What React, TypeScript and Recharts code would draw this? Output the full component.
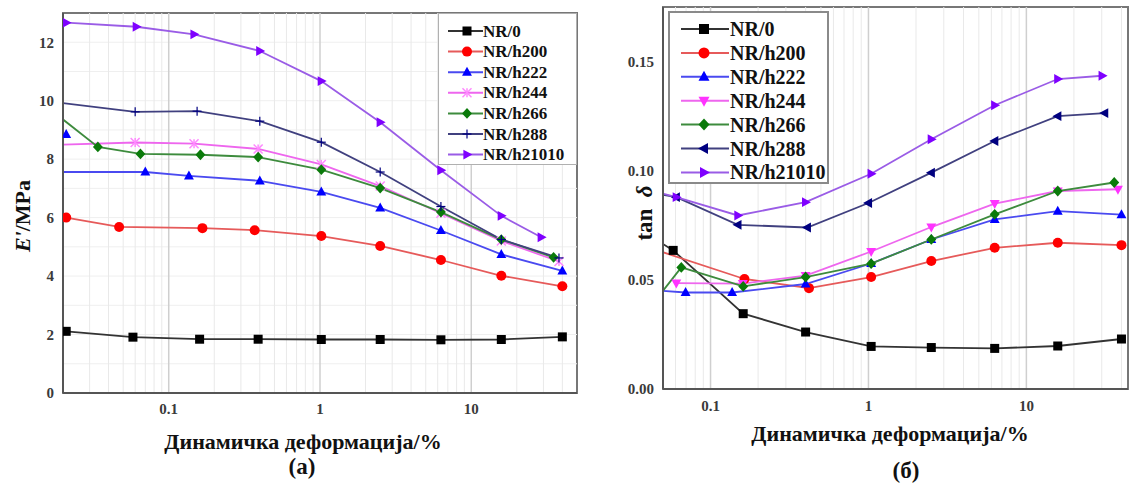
import React from 'react';
import { LineChart, Line, XAxis, YAxis, ReferenceLine, ReferenceArea } from 'recharts';

// ---------- common ----------
const SERIES_NAMES = ['NR/0', 'NR/h200', 'NR/h222', 'NR/h244', 'NR/h266', 'NR/h288', 'NR/h21010'];
const MARKER_COLORS = ['#000000', '#ff0000', '#0000ff', '#ff33ff', '#0a7a0a', '#000080', '#7f00ff'];
const LINE_COLORS = ['#333333', '#e65a5a', '#4a4af0', '#ee66ee', '#3d8b3d', '#40407f', '#9a5ce6'];
const LEFT_SHAPES = ['square', 'circle', 'triUp', 'star', 'diamond', 'plus', 'triRight'];
const RIGHT_SHAPES = ['square', 'circle', 'triUp', 'triDown', 'diamond', 'triLeft', 'triRight'];
const X_TICKS = [0.1, 1, 10];
const X_TITLE = 'Динамичка деформација/%';

// ---------- (a) storage modulus E' ----------
const A_X_DOMAIN = [0.02, 50];
const A_Y_DOMAIN = [0, 13];
const A_Y_TICKS = [0, 2, 4, 6, 8, 10, 12];
const A_MINOR_X = [0.03, 0.04, 0.05, 0.06, 0.07, 0.08, 0.09, 0.2, 0.3, 0.4, 0.5, 0.6, 0.7, 0.8, 0.9, 2, 3, 4, 5, 6, 7, 8, 9, 20, 30, 40];
const A_MINOR_Y = [1, 2, 3, 4, 5, 6, 7, 8, 9, 10, 11, 12];

const aX_NR0 = [0.021, 0.058, 0.16, 0.39, 1.02, 2.5, 6.3, 15.8, 40];
const aY_NR0 = [2.11, 1.91, 1.84, 1.84, 1.83, 1.83, 1.82, 1.83, 1.92];
const aX_h200 = [0.021, 0.047, 0.167, 0.37, 1.02, 2.5, 6.3, 15.8, 40];
const aY_h200 = [6.0, 5.68, 5.64, 5.57, 5.37, 5.03, 4.55, 4.01, 3.65];
const aX_h222 = [0.021, 0.021, 0.016, 0.07, 0.136, 0.4, 1.02, 2.5, 6.3, 15.8, 40];
const aY_h222 = [8.85, null, 7.56, 7.56, 7.43, 7.26, 6.88, 6.33, 5.56, 4.74, 4.18];
const aX_h244 = [0.016, 0.06, 0.147, 0.39, 1.02, 2.5, 6.3, 15.8, 38];
const aY_h244 = [8.48, 8.57, 8.53, 8.35, 7.82, 7.08, 6.15, 5.2, 4.5];
const aX_h266 = [0.016, 0.034, 0.065, 0.162, 0.39, 1.02, 2.5, 6.3, 15.8, 35];
const aY_h266 = [9.75, 8.42, 8.18, 8.15, 8.07, 7.64, 7.01, 6.19, 5.25, 4.64];
const aX_h288 = [0.016, 0.06, 0.154, 0.4, 1.02, 2.5, 6.3, 15.8, 38];
const aY_h288 = [9.98, 9.62, 9.64, 9.3, 8.58, 7.56, 6.38, 5.25, 4.62];
const aX_h21010 = [0.021, 0.061, 0.147, 0.4, 1.02, 2.5, 6.3, 15.8, 29];
const aY_h21010 = [12.67, 12.53, 12.27, 11.7, 10.67, 9.26, 7.62, 6.06, 5.33];

// ---------- (б) tan delta ----------
const B_X_DOMAIN = [0.05, 44];
const B_Y_DOMAIN = [0, 0.175];
const B_Y_TICKS = [0, 0.05, 0.1, 0.15];
const B_MINOR_X = [0.06, 0.07, 0.08, 0.09, 0.2, 0.3, 0.4, 0.5, 0.6, 0.7, 0.8, 0.9, 2, 3, 4, 5, 6, 7, 8, 9, 20, 30, 40];

const bX_NR0 = [0.045, 0.058, 0.161, 0.4, 1.04, 2.5, 6.3, 15.8, 40];
const bY_NR0 = [0.0685, 0.0635, 0.0345, 0.0261, 0.0195, 0.019, 0.0186, 0.0197, 0.0229];
const bX_h200 = [0.045, 0.164, 0.42, 1.04, 2.5, 6.3, 15.8, 40];
const bY_h200 = [0.0637, 0.0504, 0.0462, 0.0513, 0.0586, 0.0647, 0.067, 0.0659];
const bX_h222 = [0.045, 0.0695, 0.137, 0.4, 1.04, 2.5, 6.3, 15.8, 40];
const bY_h222 = [0.0452, 0.0442, 0.0442, 0.0481, 0.0575, 0.0685, 0.0777, 0.0815, 0.0799];
const bX_h244 = [0.0607, 0.16, 0.4, 1.04, 2.5, 6.3, 15.8, 38];
const bY_h244 = [0.0485, 0.0483, 0.0519, 0.063, 0.0742, 0.0849, 0.0907, 0.0915];
const bX_h266 = [0.045, 0.0653, 0.161, 0.4, 1.04, 2.5, 6.3, 15.8, 36];
const bY_h266 = [0.0408, 0.0557, 0.047, 0.0513, 0.0574, 0.0685, 0.08, 0.0907, 0.0946];
const bX_h288 = [0.045, 0.0607, 0.149, 0.41, 1.0, 2.5, 6.3, 15.8, 31.3];
const bY_h288 = [0.0896, 0.0879, 0.0752, 0.074, 0.0852, 0.0991, 0.1136, 0.125, 0.1264];
const bX_h21010 = [0.045, 0.0607, 0.149, 0.4, 1.04, 2.5, 6.3, 15.8, 30.2];
const bY_h21010 = [0.0904, 0.0879, 0.0795, 0.0856, 0.0986, 0.1144, 0.13, 0.142, 0.1435];

const zip = (xs: number[], ys: (number | null)[]) => xs.map((x, i) => ({ x, y: ys[i] }));

const A_SERIES = [
  zip(aX_NR0, aY_NR0), zip(aX_h200, aY_h200), zip(aX_h222, aY_h222), zip(aX_h244, aY_h244),
  zip(aX_h266, aY_h266), zip(aX_h288, aY_h288), zip(aX_h21010, aY_h21010),
];
const B_SERIES = [
  zip(bX_NR0, bY_NR0), zip(bX_h200, bY_h200), zip(bX_h222, bY_h222), zip(bX_h244, bY_h244),
  zip(bX_h266, bY_h266), zip(bX_h288, bY_h288), zip(bX_h21010, bY_h21010),
];

const FONT = 'Liberation Serif';

function Marker({ shape, cx, cy, color, s }: { shape: string; cx: number; cy: number; color: string; s: number }) {
  const h = s / 2;
  switch (shape) {
    case 'square':
      return <rect x={cx - h} y={cy - h} width={s} height={s} fill={color} />;
    case 'circle':
      return <circle cx={cx} cy={cy} r={h + 0.5} fill={color} />;
    case 'triUp':
      return <polygon points={`${cx},${cy - h * 1.2} ${cx + h * 1.1},${cy + h * 0.8} ${cx - h * 1.1},${cy + h * 0.8}`} fill={color} />;
    case 'triDown':
      return <polygon points={`${cx},${cy + h * 1.2} ${cx + h * 1.1},${cy - h * 0.8} ${cx - h * 1.1},${cy - h * 0.8}`} fill={color} />;
    case 'triLeft':
      return <polygon points={`${cx - h * 1.2},${cy} ${cx + h * 0.8},${cy - h * 1.1} ${cx + h * 0.8},${cy + h * 1.1}`} fill={color} />;
    case 'triRight':
      return <polygon points={`${cx + h * 1.2},${cy} ${cx - h * 0.8},${cy - h * 1.1} ${cx - h * 0.8},${cy + h * 1.1}`} fill={color} />;
    case 'diamond':
      return <polygon points={`${cx},${cy - h * 1.2} ${cx + h * 1.1},${cy} ${cx},${cy + h * 1.2} ${cx - h * 1.1},${cy}`} fill={color} />;
    case 'plus':
      return (
        <g stroke={color} strokeWidth={1.2}>
          <line x1={cx - h} y1={cy} x2={cx + h} y2={cy} />
          <line x1={cx} y1={cy - h} x2={cx} y2={cy + h} />
        </g>
      );
    case 'star':
      return (
        <g stroke="#ff88ff" strokeWidth={1.5}>
          <line x1={cx - h} y1={cy - h} x2={cx + h} y2={cy + h} />
          <line x1={cx - h} y1={cy + h} x2={cx + h} y2={cy - h} />
          <line x1={cx} y1={cy - h} x2={cx} y2={cy + h} />
        </g>
      );
    default:
      return null;
  }
}

function makeDot(shape: string, color: string, s: number) {
  return (p: any) => {
    if (p == null || p.cx == null || p.cy == null || p.value == null || (Array.isArray(p.value) && p.value[1] == null)) {
      return <g key={`d-${p?.index}`} />;
    }
    return (
      <g key={`d-${p.index}`}>
        <Marker shape={shape} cx={p.cx} cy={p.cy} color={color} s={s} />
      </g>
    );
  };
}

const tickStyle = { fill: '#3a3a3a', fontSize: 15, fontWeight: 700, fontFamily: FONT };

function LegendBox(props: {
  left: number; top: number; width: number; height: number; rowTop: number; rowGap: number;
  lineX1: number; lineX2: number; markerX: number; textX: number; fontSize: number;
  shapes: string[]; markerSize: number; border: string;
}) {
  const { left, top, width, height, rowTop, rowGap, lineX1, lineX2, markerX, textX, fontSize, shapes, markerSize, border } = props;
  return (
    <div style={{ position: 'absolute', left, top, width, height, background: '#fff', border, boxSizing: 'border-box' }}>
      <svg width={width} height={height} style={{ position: 'absolute', left: -1, top: -1, overflow: 'visible' }}>
        {SERIES_NAMES.map((name, i) => {
          const y = rowTop + i * rowGap;
          return (
            <g key={name}>
              <line x1={lineX1} y1={y} x2={lineX2} y2={y} stroke={LINE_COLORS[i]} strokeWidth={2} />
              <Marker shape={shapes[i]} cx={markerX} cy={y} color={MARKER_COLORS[i]} s={markerSize} />
              <text x={textX} y={y} dominantBaseline="central" fontFamily={FONT} fontWeight={700} fontSize={fontSize} fill="#111">
                {name}
              </text>
            </g>
          );
        })}
      </svg>
    </div>
  );
}

const centered = (left: number, top: number, extra: React.CSSProperties = {}): React.CSSProperties => ({
  position: 'absolute', left, top, transform: 'translate(-50%, -50%)', whiteSpace: 'nowrap',
  fontFamily: FONT, fontWeight: 700, color: '#111', ...extra,
});

export default function App() {
  return (
    <div style={{ position: 'absolute', left: 0, top: 0, width: 1129, height: 488, background: '#fff', overflow: 'hidden' }}>
      {/* (a) */}
      <div style={{ position: 'absolute', left: 0, top: 0 }}>
        <LineChart width={590} height={488} margin={{ top: 13, right: 13, bottom: 65, left: 23 }}>
          <XAxis
            dataKey="x" type="number" scale="log" domain={A_X_DOMAIN} allowDataOverflow ticks={X_TICKS}
            tickFormatter={(v: number) => String(v)} tick={tickStyle} tickLine={false} tickSize={6} tickMargin={4}
            axisLine={{ stroke: '#555', strokeWidth: 2 }} height={30}
          />
          <YAxis
            type="number" domain={A_Y_DOMAIN} ticks={A_Y_TICKS} allowDataOverflow tick={tickStyle}
            tickLine={false} tickSize={6} tickMargin={3} axisLine={{ stroke: '#555', strokeWidth: 2 }} width={40}
          />
          {A_MINOR_Y.map((v) => (
            <ReferenceLine key={`ay${v}`} y={v} stroke="#efefef" strokeWidth={1} />
          ))}
          {A_MINOR_X.map((v) => (
            <ReferenceLine key={`ax${v}`} x={v} stroke="#e9e9e9" strokeWidth={1} />
          ))}
          {X_TICKS.map((v) => (
            <ReferenceLine key={`aX${v}`} x={v} stroke="#cfcfcf" strokeWidth={1.5} />
          ))}
          <ReferenceArea x1={A_X_DOMAIN[0]} x2={A_X_DOMAIN[1]} y1={A_Y_DOMAIN[0]} y2={A_Y_DOMAIN[1]} fill="none" stroke="#777" strokeWidth={2} fillOpacity={0} />
          {A_SERIES.map((d, i) => (
            <Line
              key={SERIES_NAMES[i]} data={d} dataKey="y" name={SERIES_NAMES[i]} type="linear"
              stroke={LINE_COLORS[i]} strokeWidth={1.8} isAnimationActive={false} connectNulls={false}
              dot={makeDot(LEFT_SHAPES[i], MARKER_COLORS[i], 9)} activeDot={false}
            />
          ))}
        </LineChart>
      </div>

      {/* (б) */}
      <div style={{ position: 'absolute', left: 590, top: 0 }}>
        <LineChart width={539} height={488} margin={{ top: 7, right: 1, bottom: 69, left: 23 }}>
          <XAxis
            dataKey="x" type="number" scale="log" domain={B_X_DOMAIN} allowDataOverflow ticks={X_TICKS}
            tickFormatter={(v: number) => String(v)} tick={tickStyle} tickLine={false} tickSize={6} tickMargin={5}
            axisLine={{ stroke: '#555', strokeWidth: 2 }} height={30}
          />
          <YAxis
            type="number" domain={B_Y_DOMAIN} ticks={B_Y_TICKS} allowDataOverflow tick={tickStyle}
            tickFormatter={(v: number) => v.toFixed(2)} tickLine={false} tickSize={6} tickMargin={3}
            axisLine={{ stroke: '#555', strokeWidth: 2 }} width={50}
          />
          {B_MINOR_X.map((v) => (
            <ReferenceLine key={`bx${v}`} x={v} stroke="#e9e9e9" strokeWidth={1} />
          ))}
          {X_TICKS.map((v) => (
            <ReferenceLine key={`bX${v}`} x={v} stroke="#cfcfcf" strokeWidth={1.5} />
          ))}
          <ReferenceArea x1={B_X_DOMAIN[0]} x2={B_X_DOMAIN[1]} y1={B_Y_DOMAIN[0]} y2={B_Y_DOMAIN[1]} fill="none" stroke="#777" strokeWidth={2} fillOpacity={0} />
          {B_SERIES.map((d, i) => (
            <Line
              key={SERIES_NAMES[i]} data={d} dataKey="y" name={SERIES_NAMES[i]} type="linear"
              stroke={LINE_COLORS[i]} strokeWidth={1.8} isAnimationActive={false} connectNulls={false}
              dot={makeDot(RIGHT_SHAPES[i], MARKER_COLORS[i], 9)} activeDot={false}
            />
          ))}
        </LineChart>
      </div>

      <LegendBox
        left={438} top={13} width={139} height={152} rowTop={18} rowGap={20.6}
        lineX1={10} lineX2={45} markerX={29} textX={45} fontSize={17}
        shapes={LEFT_SHAPES} markerSize={9} border="1px solid #b0b0b0"
      />
      <LegendBox
        left={668} top={11} width={161} height={173} rowTop={17} rowGap={23.9}
        lineX1={12} lineX2={60} markerX={35} textX={61} fontSize={20}
        shapes={RIGHT_SHAPES} markerSize={10} border="2px solid #8a8a8a"
      />

      {/* axis titles */}
      <div style={centered(23, 216, { transform: 'translate(-50%, -50%) rotate(-90deg)', fontSize: 22 })}>
        <span style={{ fontStyle: 'italic' }}>E'</span>/MPa
      </div>
      <div style={centered(645, 213, { transform: 'translate(-50%, -50%) rotate(-90deg)', fontSize: 23 })}>
        tan&nbsp;&nbsp;<span style={{ fontStyle: 'italic' }}>δ</span>
      </div>
      <div style={centered(303, 442, { fontSize: 22 })}>{X_TITLE}</div>
      <div style={centered(890, 434, { fontSize: 22 })}>{X_TITLE}</div>
      <div style={centered(302, 467, { fontSize: 23 })}>(a)</div>
      <div style={centered(906, 471, { fontSize: 23 })}>(б)</div>
    </div>
  );
}
